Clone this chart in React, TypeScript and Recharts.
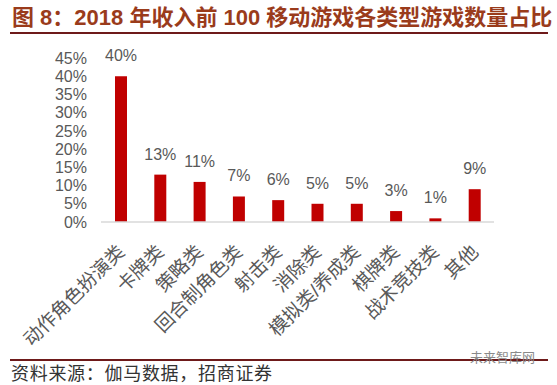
import React from 'react';
import { BarChart, Bar, XAxis, YAxis, LabelList } from 'recharts';

const categories = ['动作角色扮演类', '卡牌类', '策略类', '回合制角色类', '射击类', '消除类', '模拟类/养成类', '棋牌类', '战术竞技类', '其他'];
const shares = [40, 13, 11, 7, 6, 5, 5, 3, 1, 9];
const yTicks = [0, 5, 10, 15, 20, 25, 30, 35, 40, 45];

const data = categories.map((name, i) => ({ name, value: shares[i] }));

const CJK = '"Liberation Sans", "Noto Sans CJK SC", sans-serif';

const CategoryTick = (props: any) => {
  const { x, y, payload } = props;
  const ax = x + 5;
  const ay = y + 23;
  return (
    <text
      x={ax}
      y={ay}
      transform={`rotate(-45, ${ax}, ${ay})`}
      textAnchor="end"
      fill="#595959"
      fontSize={19}
      fontFamily={CJK}
    >
      {payload.value}
    </text>
  );
};

export default function App() {
  return (
    <div style={{ position: 'absolute', left: 0, top: 0, width: 557, height: 385, background: '#fff', overflow: 'hidden' }}>
      <div
        style={{
          position: 'absolute',
          left: 12,
          top: 5,
          fontSize: 22,
          fontWeight: 'bold',
          color: '#9A3B1B',
          fontFamily: CJK,
          whiteSpace: 'nowrap',
          lineHeight: '26px',
        }}
      >
        图 8：2018 年收入前 100 移动游戏各类型游戏数量占比
      </div>
      <div style={{ position: 'absolute', left: 10, top: 32, width: 538, height: 2, background: '#6E1A1A' }} />
      <BarChart
        width={557}
        height={385}
        data={data}
        margin={{ top: 58, right: 63, bottom: 33, left: 41 }}
        style={{ position: 'absolute', left: 0, top: 0 }}
      >
        <YAxis
          width={60}
          domain={[0, 45]}
          ticks={yTicks}
          interval={0}
          axisLine={false}
          tickLine={false}
          tickMargin={8}
          tickFormatter={(v: number) => `${v}%`}
          tick={{ fill: '#595959', fontSize: 16, fontFamily: CJK }}
        />
        <XAxis
          dataKey="name"
          height={130}
          interval={0}
          tickLine={false}
          axisLine={{ stroke: '#D9D9D9', strokeWidth: 1.5 }}
          tick={<CategoryTick />}
        />
        <Bar dataKey="value" fill="#C00000" barSize={12} isAnimationActive={false}>
          <LabelList
            dataKey="value"
            position="top"
            offset={15}
            formatter={(v: any) => `${v}%`}
            fill="#595959"
            fontSize={16}
            fontFamily={CJK}
          />
        </Bar>
      </BarChart>
      <div style={{ position: 'absolute', left: 10, top: 359, width: 538, height: 2, background: '#6E1A1A' }} />
      <div
        style={{
          position: 'absolute',
          left: 470,
          top: 349,
          fontSize: 13,
          color: '#8a8a8a',
          fontFamily: '"Noto Sans CJK SC", sans-serif',
          whiteSpace: 'nowrap',
          lineHeight: '16px',
        }}
      >
        未来智库网
      </div>
      <div
        style={{
          position: 'absolute',
          left: 11,
          top: 362,
          fontSize: 18,
          letterSpacing: 0.7,
          color: '#333',
          fontFamily: '"Noto Sans CJK SC", sans-serif',
          whiteSpace: 'nowrap',
          lineHeight: '21px',
        }}
      >
        资料来源：伽马数据，招商证券
      </div>
    </div>
  );
}
